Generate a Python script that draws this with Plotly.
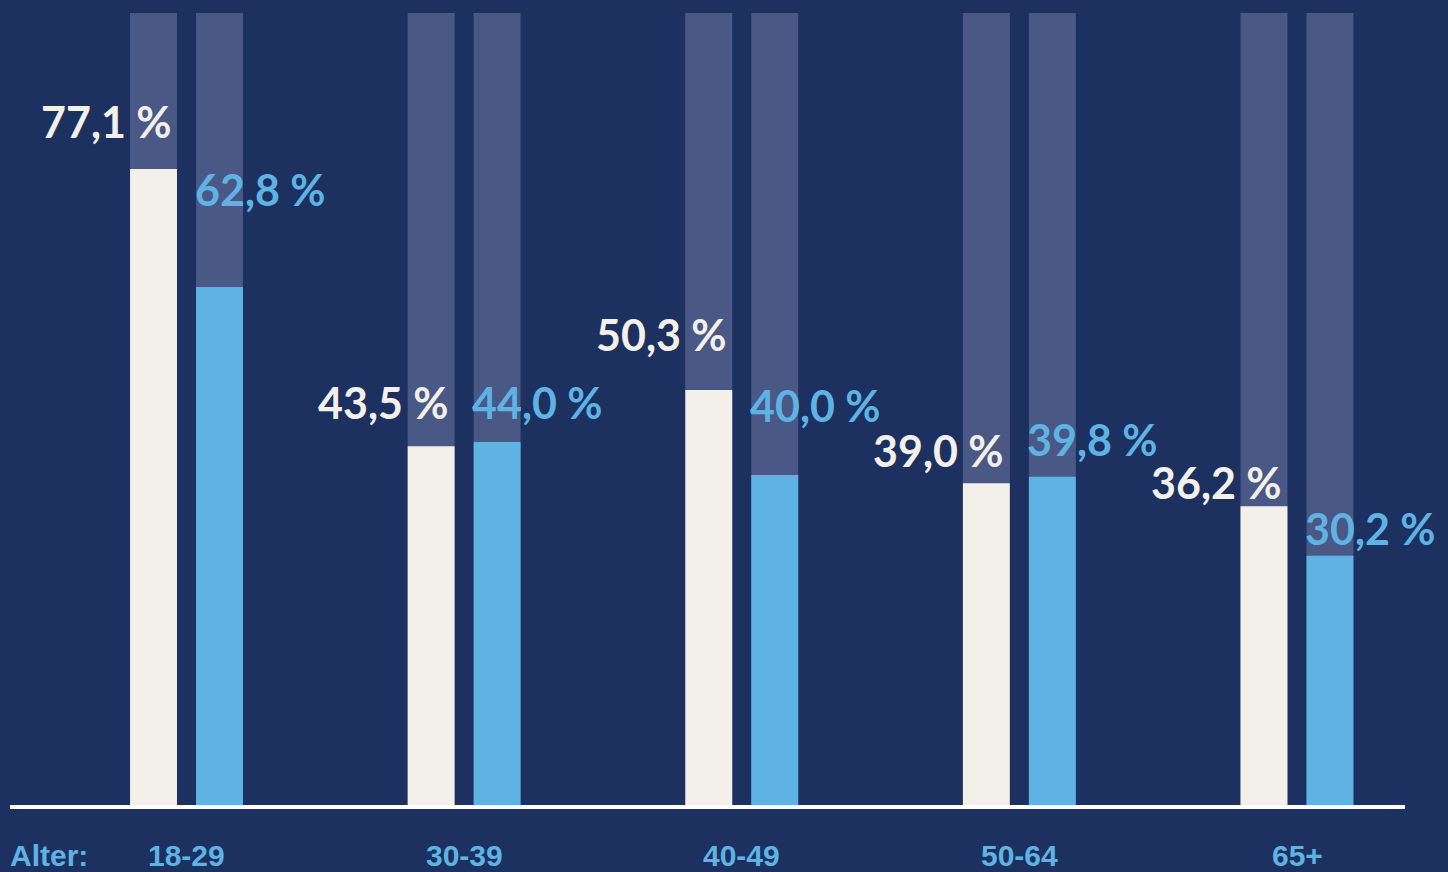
import plotly.graph_objects as go

# ---- data ----
age_groups = ["18-29", "30-39", "40-49", "50-64", "65+"]
series_a = [77.1, 43.5, 50.3, 39.0, 36.2]   # white bars
series_b = [62.8, 44.0, 40.0, 39.8, 30.2]   # light blue bars
track = [100, 100, 100, 100, 100]          # full-height background bars
axis_caption = "Alter:"

# ---- style ----
BG = "#1c3160"
TRACK = "#4a5886"
WHITE = "#f3f0ea"
BLUE = "#5fb3e3"
BAR_W = 0.169
OFF_A = -0.2035
OFF_B = 0.0342
LABEL_FONT = "Lato"
# label placement nudges (pixels above bar top)
lift_a = [47, 44, 56, 33, 24]
lift_b = [97, 40, 70, 37, 27]


def fmt(v):
    return f"{v:.1f}".replace(".", ",") + " %"


fig = go.Figure()
for off in (OFF_A, OFF_B):
    fig.add_trace(go.Bar(x=age_groups, y=track, width=BAR_W, offset=off,
                         marker=dict(color=TRACK, line=dict(width=0)),
                         hoverinfo="skip", showlegend=False))
fig.add_trace(go.Bar(x=age_groups, y=series_a, width=BAR_W, offset=OFF_A,
                     marker=dict(color=WHITE, line=dict(width=0)), showlegend=False))
fig.add_trace(go.Bar(x=age_groups, y=series_b, width=BAR_W, offset=OFF_B,
                     marker=dict(color=BLUE, line=dict(width=0)), showlegend=False))

ann = []
for i, cat in enumerate(age_groups):
    ann.append(dict(x=cat, y=series_a[i], xref="x", yref="y", text=fmt(series_a[i]),
                    showarrow=False, xanchor="right", yanchor="middle",
                    xshift=-13, yshift=lift_a[i],
                    font=dict(family=LABEL_FONT, size=43, color=WHITE, weight="bold")))
    ann.append(dict(x=cat, y=series_b[i], xref="x", yref="y", text=fmt(series_b[i]),
                    showarrow=False, xanchor="left", yanchor="middle",
                    xshift=6, yshift=lift_b[i],
                    font=dict(family=LABEL_FONT, size=43, color=BLUE, weight="bold")))
    ann.append(dict(x=cat, y=0, xref="x", yref="paper", text=age_groups[i],
                    showarrow=False, xanchor="center", yanchor="middle", yshift=-50,
                    font=dict(family="Liberation Sans", size=30, color=BLUE, weight="bold")))
ann.append(dict(x=0, y=0, xref="paper", yref="paper", text=axis_caption,
                showarrow=False, xanchor="left", yanchor="middle", yshift=-50, xshift=-2,
                font=dict(family="Liberation Sans", size=30, color=BLUE, weight="bold")))

fig.update_layout(
    width=1448, height=872,
    margin=dict(l=10, r=43, t=13, b=67),
    paper_bgcolor=BG, plot_bgcolor=BG,
    barmode="overlay", barcornerradius=6,
    annotations=ann,
    xaxis=dict(range=[-0.636, 4.389], showticklabels=False, showgrid=False,
               zeroline=False, showline=True, linecolor="#ffffff", linewidth=4,
               ticks=""),
    yaxis=dict(range=[0, 96], visible=False, showgrid=False, zeroline=False),
)

fig.write_html(
    "out.html",
    config={"displayModeBar": False},
    post_script="document.body.style.margin='0';document.body.style.overflow='hidden';"
                "document.body.style.background='" + BG + "';",
)
